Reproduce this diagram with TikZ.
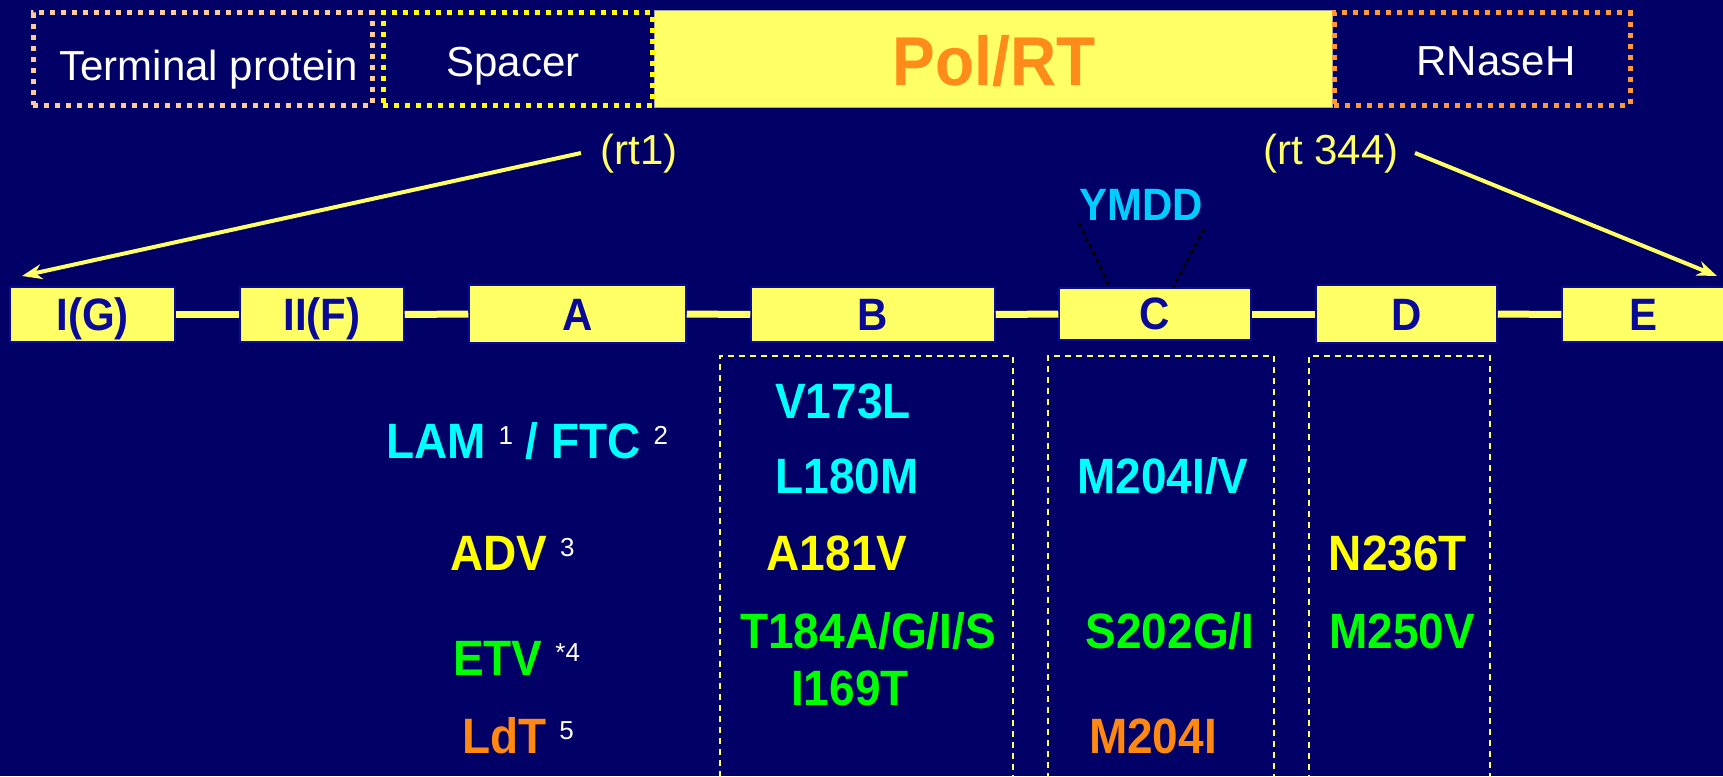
\documentclass[tikz,border=0pt]{standalone}
\usepackage{fontspec}
\setmainfont{Liberation Sans}
\usetikzlibrary{arrows.meta,calc}
\definecolor{bg}{HTML}{000066}
\definecolor{boxfill}{HTML}{FFFF66}
\definecolor{boxline}{HTML}{0A0A99}
\definecolor{lblue}{HTML}{0A0A99}
\definecolor{peach}{HTML}{FFCC99}
\definecolor{spacerY}{HTML}{FFFF00}
\definecolor{rnaseO}{HTML}{FF9933}
\definecolor{polO}{HTML}{FF8C1A}
\definecolor{cyanT}{HTML}{00FFFF}
\definecolor{ymddC}{HTML}{00CCFF}
\definecolor{greenT}{HTML}{00FF00}
\definecolor{yellowT}{HTML}{FFFF00}
\definecolor{orangeT}{HTML}{FF8811}
\newcommand\supx[1]{\raisebox{14pt}{\color{white}\mdseries\fontsize{26}{30}\selectfont #1}}
\newcommand\tallx[1]{\scalebox{1}[1.08]{#1}}
\tikzset{
 txt/.style={text=white, font=\fontsize{42}{50}\selectfont, inner sep=0pt, anchor=base},
 rtlbl/.style={text=boxfill, font=\fontsize{42}{50}\selectfont, inner sep=0pt, anchor=base},
 boxlbl/.style={text=lblue, font=\bfseries\fontsize{42}{50}\selectfont, inner sep=0pt, anchor=base},
 mut/.style={font=\bfseries\fontsize{46}{54}\selectfont, inner sep=0pt, anchor=base},
 rtbox/.style={fill=boxfill, draw=boxline, line width=1.5pt, inner sep=0pt},
 link/.style={draw=boxfill, line width=7pt},
 arr/.style={draw=boxfill, line width=4pt, -{Stealth[length=20pt,width=15pt]}},
 dbox/.style={draw=boxfill, line width=2pt, dash pattern=on 6pt off 5pt, inner sep=0pt},
 dotbox/.style={line width=5pt, dash pattern=on 5pt off 6pt, inner sep=0pt},
 ymddline/.style={draw=black, line width=3pt, dash pattern=on 4pt off 4pt},
}
\begin{document}
\begin{tikzpicture}[x=1pt,y=-1pt]
\useasboundingbox (0,0) rectangle (1723,776);
\clip (0,0) rectangle (1723,776);
\fill[bg] (0,0) rectangle (1723,776);

% top domain bar
\node[fill=boxfill, draw=gray!70, line width=1pt, minimum width=678pt, minimum height=96pt, inner sep=0pt] (pol) at (993,59) {};
\node[dotbox, draw=peach, minimum width=339pt, minimum height=92pt] (tp) at (202.5,59) {};
\node[dotbox, draw=spacerY, minimum width=269pt, minimum height=92pt] (sp) at (517.5,59) {};
\node[dotbox, draw=rnaseO, minimum width=296pt, minimum height=92pt] (rn) at (1482,59) {};
\node[txt] (tpl) at (209,80) {Terminal protein};
\node[txt] (spl) at (513,77) {Spacer};
\node[text=polO, font=\bfseries\fontsize{64}{70}\selectfont, inner sep=0pt, anchor=base] (poll) at (994,85) {\tallx{Pol/RT}};
\node[txt] (rnl) at (1496,75) {RNaseH};

% rt labels and arrows
\node[rtlbl] (rt1) at (639,164) {(rt1)};
\node[rtlbl] (rt344) at (1331,164) {(rt 344)};
\coordinate (a1s) at (581,153);
\coordinate (a1e) at (22,276);
\coordinate (a2s) at (1415,153);
\coordinate (a2e) at (1717,276);
\draw[arr] (a1s) -- (a1e);
\draw[arr] (a2s) -- (a2e);

% motif boxes
\node[rtbox, minimum width=165pt, minimum height=55pt] (IG) at (92.5,314.5) {};
\node[rtbox, minimum width=164pt, minimum height=55pt] (IIF) at (322,314.5) {};
\node[rtbox, minimum width=217pt, minimum height=58pt] (A) at (577.5,314) {};
\node[rtbox, minimum width=244pt, minimum height=55pt] (B) at (873,314.5) {};
\node[rtbox, minimum width=192pt, minimum height=52pt] (C) at (1155,314) {};
\node[rtbox, minimum width=181pt, minimum height=58pt] (D) at (1406.5,314) {};
\node[rtbox, minimum width=170pt, minimum height=55pt] (E) at (1647,314.5) {};
\foreach \a/\b in {IG/IIF, IIF/A, A/B, B/C, C/D, D/E}
  \draw[link] (\a.east) -- (\b.west);
\node[boxlbl] (IGl) at (92.5,330) {\tallx{I(G)}};
\node[boxlbl] (IIFl) at (322,330) {\tallx{II(F)}};
\node[boxlbl] (Al) at (577.5,330) {\tallx{A}};
\node[boxlbl] (Bl) at (873,330) {\tallx{B}};
\node[boxlbl] (Cl) at (1155,329) {\tallx{C}};
\node[boxlbl] (Dl) at (1406.5,330) {\tallx{D}};
\node[boxlbl] (El) at (1643,330) {\tallx{E}};

% YMDD
\node[boxlbl, text=ymddC] (ymdd) at (1141,220) {\tallx{YMDD}};
\draw[ymddline] ($(ymdd.base west)+(0,3)$) -- ($(C.north)+(-45,0)$);
\draw[ymddline] ($(ymdd.base east)+(1,9)$) -- ($(C.north)+(18,0)$);

% dashed resistance columns
\node[dbox, minimum width=293pt, minimum height=440pt, anchor=north west] (colB) at (719,355) {};
\node[dbox, minimum width=226pt, minimum height=440pt, anchor=north west] (colC) at (1047,355) {};
\node[dbox, minimum width=181pt, minimum height=440pt, anchor=north west] (colD) at (1308,355) {};

% drug labels
\node[mut, anchor=base west] (lam) at (386,458) {\color{cyanT}\tallx{LAM} \supx{1} \tallx{/ FTC} \supx{2}};
\node[mut, anchor=base west] (adv) at (450,570) {\color{yellowT}\tallx{ADV} \supx{3}};
\node[mut, anchor=base west] (etv) at (453,675) {\color{greenT}\tallx{ETV} \supx{*4}};
\node[mut, anchor=base west] (ldt) at (462,753) {\color{orangeT}\tallx{LdT} \supx{5}};

% mutations
\node[mut, text=cyanT] (m1) at (843,418) {\tallx{V173L}};
\node[mut, text=cyanT] (m2) at (847,493) {\tallx{L180M}};
\node[mut, text=yellowT] (m3) at (837,570) {\tallx{A181V}};
\node[mut, text=greenT] (m4) at (868,648) {\tallx{T184A/G/I/S}};
\node[mut, text=greenT] (m5) at (850,705) {\tallx{I169T}};
\node[mut, text=cyanT] (m6) at (1163,493) {\tallx{M204I/V}};
\node[mut, text=greenT] (m7) at (1170,648) {\tallx{S202G/I}};
\node[mut, text=orangeT] (m8) at (1153,753) {\tallx{M204I}};
\node[mut, text=yellowT] (m9) at (1398,570) {\tallx{N236T}};
\node[mut, text=greenT] (m10) at (1402,648) {\tallx{M250V}};
\end{tikzpicture}
\end{document}
